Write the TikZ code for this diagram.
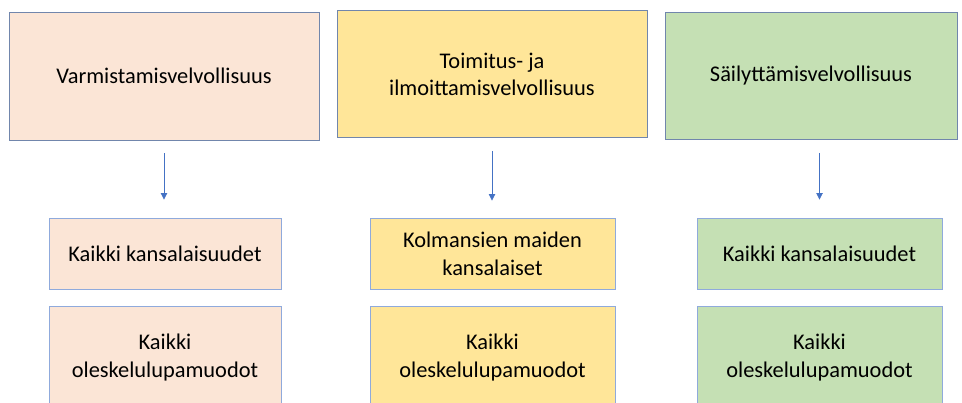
\documentclass[tikz,border=0pt]{standalone}
\usepackage{fontspec}
\setmainfont{Carlito}
\usetikzlibrary{arrows.meta}
\definecolor{peach}{HTML}{FBE5D6}
\definecolor{sand}{HTML}{FFE699}
\definecolor{leaf}{HTML}{C5E0B4}
\definecolor{edgeblue}{HTML}{8FAADC}
\definecolor{topedge}{HTML}{7186AC}
\definecolor{arrowblue}{HTML}{4472C4}
\tikzset{
	duty/.style={draw=topedge, line width=0.9pt, inner sep=0pt, align=center,
		font=\fontsize{22.4}{27}\selectfont},
	scope box/.style={draw=edgeblue, line width=0.9pt, inner sep=0pt, align=center,
		font=\fontsize{22.4}{28}\selectfont},
	down/.style={arrowblue, line width=0.8pt, -{Triangle[width=6.5pt,length=6.5pt]}}
}
\begin{document}
\begin{tikzpicture}[x=1pt,y=-1pt]
	%Frame of the page, the lowest row runs off the bottom
	\useasboundingbox (0,0) rectangle (962,403);
	\clip (0,0) rectangle (962,403);

	%Widths of the columns (top row / lower rows)
	\pgfmathsetmacro{\wa}{310}
	\pgfmathsetmacro{\wb}{310}
	\pgfmathsetmacro{\wc}{292}
	\pgfmathsetmacro{\wlow}{232}

	%Top row: the three duties
	\node[duty, fill=peach, minimum width=\wa, minimum height=128] (varm) at (164,76) {Varmistamisvelvollisuus};
	\node[duty, fill=sand, minimum width=\wb, minimum height=127] (toim) at (492,74) {Toimitus- ja\\ilmoittamisvelvollisuus};
	\node[duty, fill=leaf, minimum width=\wc, minimum height=127] (sail) at (811,76) {Säilyttämisvelvollisuus};

	%Second row: whose citizenship
	\node[scope box, fill=peach, minimum width=\wlow, minimum height=71] (varmkans) at (165,253.5) {Kaikki kansalaisuudet};
	\node[scope box, fill=sand, minimum width=245, minimum height=71] (toimkans) at (492.5,253.5) {Kolmansien maiden\\kansalaiset};
	\node[scope box, fill=leaf, minimum width=245, minimum height=71] (sailkans) at (819.5,253.5) {Kaikki kansalaisuudet};

	%Third row: residence permits
	\node[scope box, fill=peach, minimum width=\wlow, minimum height=104] (varmlupa) at (165,358) {Kaikki\\oleskelulupamuodot};
	\node[scope box, fill=sand, minimum width=245, minimum height=104] (toimlupa) at (492.5,358) {Kaikki\\oleskelulupamuodot};
	\node[scope box, fill=leaf, minimum width=245, minimum height=104] (saillupa) at (819.5,358) {Kaikki\\oleskelulupamuodot};

	%Arrows, they stop short of both boxes
	\draw[down, shorten <=13pt, shorten >=18pt] (varm.south) -- (varm.south |- varmkans.north);
	\draw[down, shorten <=13pt, shorten >=17pt] (toim.south) -- (toim.south |- toimkans.north);
	\draw[down, shorten <=13pt, shorten >=18pt] (sail.south -| sailkans.north) -- (sailkans.north);
\end{tikzpicture}
\end{document}
